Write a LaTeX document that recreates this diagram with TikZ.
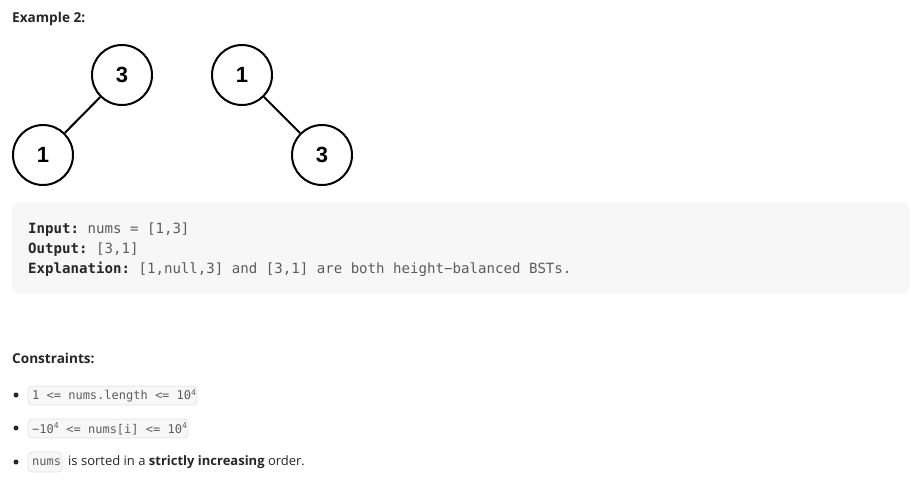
\documentclass[tikz,border=0pt]{standalone}
\usepackage{fontspec}
\setmainfont{Open Sans}
\newfontfamily\numfont{Liberation Sans}
\setmonofont{DejaVu Sans Mono}
\definecolor{txt}{HTML}{262626}
\definecolor{codec}{HTML}{5C5C5C}
\definecolor{boxbg}{HTML}{F7F7F7}
\definecolor{chipbd}{HTML}{E3E3E3}
\begin{document}
\begin{tikzpicture}[x=1pt,y=-1pt,
  tnode/.style={circle,draw=black,line width=2pt,minimum size=60pt,inner sep=0pt,font=\numfont\fontsize{22}{22}\selectfont\bfseries},
  tedge/.style={draw=black,line width=2pt},
  lbl/.style={anchor=base west,inner sep=0pt,text=txt},
  codeline/.style={anchor=base west,inner sep=0pt,font=\ttfamily\fontsize{14.1}{16}\selectfont,text=codec},
  chip/.style={draw=chipbd,fill=boxbg,rounded corners=4pt,line width=0.8pt},
  bullet/.style={circle,fill=txt,inner sep=0pt,minimum size=5pt}]
\useasboundingbox (0,0) rectangle (921,480);
% heading
\node[lbl,font=\fontsize{13.6}{16}\selectfont\bfseries] (ex) at (12,22) {Example 2:};
% trees
\node[tnode] (a3) at (122,75) {3};
\node[tnode] (a1) at (43,155) {1};
\node[tnode] (b1) at (242,75) {1};
\node[tnode] (b3) at (322,155) {3};
\draw[tedge] (a3) -- (a1);
\draw[tedge] (b1) -- (b3);
% example box
\fill[boxbg,rounded corners=8pt] (12,202) rectangle (910,294);
\node[codeline] (in) at (28,233) {\textcolor{txt}{\bfseries Input:} nums = [1,3]};
\node[codeline] (out) at (28,253) {\textcolor{txt}{\bfseries Output:} [3,1]};
\node[codeline] (exp) at (28,273) {\textcolor{txt}{\bfseries Explanation:} [1,null,3] and [3,1] are both height−balanced BSTs.};
% constraints
\node[lbl,font=\fontsize{13.6}{16}\selectfont\bfseries] (con) at (12,363) {Constraints:};
\node[bullet] (d1) at (16,395) {};
\node[bullet] (d2) at (16,428) {};
\node[bullet] (d3) at (16,462) {};
\draw[chip] (28,386) rectangle (197,405);
\node[anchor=west,inner sep=0pt,font=\ttfamily\fontsize{12}{14}\selectfont,text=codec] (c1) at (32,396) {1 <= nums.length <= 10\textsuperscript{4}};
\draw[chip] (28,419) rectangle (188,438);
\node[anchor=west,inner sep=0pt,font=\ttfamily\fontsize{12}{14}\selectfont,text=codec] (c2) at (32,429) {−10\textsuperscript{4} <= nums[i] <= 10\textsuperscript{4}};
\draw[chip] (28,452) rectangle (62,472);
\node[anchor=west,inner sep=0pt,font=\ttfamily\fontsize{12}{14}\selectfont,text=codec] (c3) at (32,462) {nums};
\node[anchor=west,inner sep=0pt,font=\fontsize{13}{16}\selectfont,text=txt] (t3) at (68,462) {is sorted in a \textbf{strictly increasing} order.};
\end{tikzpicture}
\end{document}
